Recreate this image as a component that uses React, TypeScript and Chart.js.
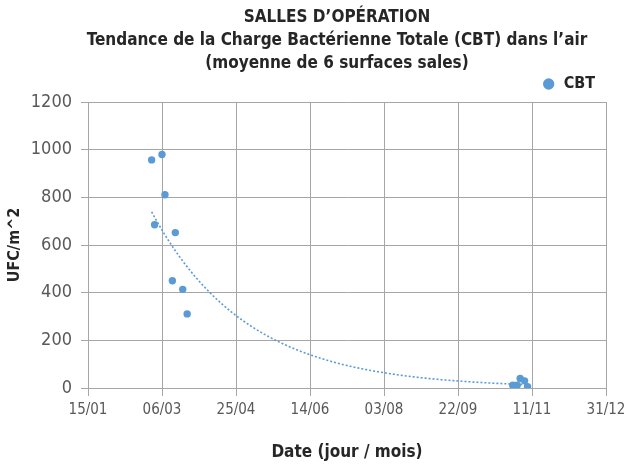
import { useEffect, useRef } from 'react';
import { Chart, registerables } from 'chart.js';

Chart.register(...registerables);

const FONT = "'DejaVu Sans Condensed', 'Liberation Sans Narrow', sans-serif";

const titleLines = [
  'SALLES D’OPÉRATION',
  'Tendance de la Charge Bactérienne Totale (CBT) dans l’air',
  '(moyenne de 6 surfaces sales)',
];
const seriesName = 'CBT';
const sampleDates = ['27/02', '06/03', '08/03', '01/03', '15/03', '13/03', '20/03', '23/03', '29/10', '01/11', '03/11', '06/11', '08/11'];
const cbtValues = [957, 980, 811, 685, 652, 450, 414, 311, 12, 12, 40, 30, 5];
const xTickLabels = ['15/01', '06/03', '25/04', '14/06', '03/08', '22/09', '11/11', '31/12'];
const yTickValues = [0, 200, 400, 600, 800, 1000, 1200];
const xAxisTitle = 'Date (jour / mois)';
const yAxisTitle = 'UFC/m^2';

const monthStarts = [0, 31, 59, 90, 120, 151, 181, 212, 243, 273, 304, 334];
const dayOfYear = (s: string) => {
  const [d, m] = s.split('/').map(Number);
  return monthStarts[m - 1] + d;
};

const BLUE = '#5B9BD5';
const GRID = '#A6A6A6';
const DARK = '#262626';

export default function App() {
  const ref = useRef<HTMLCanvasElement | null>(null);

  useEffect(() => {
    if (!ref.current) return;
    const pts = sampleDates.map((s, i) => ({ x: dayOfYear(s), y: cbtValues[i] }));

    // Exponential trendline (least squares on ln y), as the spreadsheet does
    const n = pts.length;
    const mx = pts.reduce((a, p) => a + p.x, 0) / n;
    const my = pts.reduce((a, p) => a + Math.log(p.y), 0) / n;
    let sxy = 0, sxx = 0;
    pts.forEach((p) => {
      sxy += (p.x - mx) * (Math.log(p.y) - my);
      sxx += (p.x - mx) * (p.x - mx);
    });
    const b = sxy / sxx;
    const lnA = my - b * mx;
    const xs = pts.map((p) => p.x);
    const x0 = Math.min(...xs), x1 = Math.max(...xs);
    const trend: { x: number; y: number }[] = [];
    for (let x = x0; x <= x1; x += 1) trend.push({ x, y: Math.exp(lnA + b * x) });

    const xTickDays = xTickLabels.map(dayOfYear);

    const titlePlugin = {
      id: 'multiTitle',
      afterDraw(chart: any) {
        const ctx = chart.ctx;
        ctx.save();
        ctx.fillStyle = DARK;
        ctx.font = `bold 17px ${FONT}`;
        ctx.textAlign = 'center';
        ctx.textBaseline = 'middle';
        const ys = [18, 41, 64];
        titleLines.forEach((t, i) => ctx.fillText(t, 337, ys[i]));
        ctx.restore();
      },
    };

    const chart = new Chart(ref.current, {
      type: 'scatter',
      data: {
        datasets: [
          {
            label: seriesName,
            data: pts,
            backgroundColor: BLUE,
            borderColor: BLUE,
            pointRadius: 3.7,
            pointBorderWidth: 0,
            order: 1,
          },
          {
            label: 'trend',
            data: trend,
            showLine: true,
            borderColor: BLUE,
            borderWidth: 1.6,
            borderDash: [2, 2],
            pointRadius: 0,
            fill: false,
            order: 2,
          } as any,
        ],
      },
      options: {
        animation: false,
        responsive: false,
        layout: { padding: { top: 65, left: 5, right: 20, bottom: 1 } },
        plugins: {
          title: { display: false },
          tooltip: { enabled: false },
          legend: {
            position: 'top',
            align: 'end',
            labels: {
              filter: (item: any) => item.text === seriesName,
              usePointStyle: true,
              pointStyle: 'circle',
              boxWidth: 14,
              boxHeight: 8,
              padding: 11,
              color: DARK,
              font: { family: FONT, size: 16, weight: 'bold' },
            },
          },
        },
        scales: {
          x: {
            type: 'linear',
            min: xTickDays[0],
            max: xTickDays[xTickDays.length - 1],
            afterBuildTicks: (scale: any) => {
              scale.ticks = xTickDays.map((v) => ({ value: v }));
            },
            afterFit: (scale: any) => {
              scale.height = 75;
              scale.paddingRight = 0;
              scale.paddingLeft = 0;
            },
            ticks: {
              autoSkip: false,
              maxRotation: 0,
              color: '#595959',
              font: { family: FONT, size: 15 },
              padding: 5,
              callback: (v: any) => xTickLabels[xTickDays.indexOf(Number(v))] ?? '',
            },
            grid: { color: GRID, lineWidth: 1, tickLength: 8 },
            border: { color: GRID },
            title: {
              display: true,
              text: xAxisTitle,
              color: DARK,
              font: { family: FONT, size: 17, weight: 'bold' },
              padding: { top: 0, bottom: 0 },
            },
          },
          y: {
            min: 0,
            max: 1200,
            afterBuildTicks: (scale: any) => {
              scale.ticks = yTickValues.map((v) => ({ value: v }));
            },
            afterFit: (scale: any) => {
              scale.width = 83;
            },
            ticks: {
              color: '#595959',
              font: { family: FONT, size: 18 },
              padding: 9,
              callback: (v: any) => String(v),
            },
            grid: { color: GRID, lineWidth: 1, tickLength: 7 },
            border: { color: GRID },
            title: {
              display: true,
              text: yAxisTitle,
              color: DARK,
              font: { family: FONT, size: 16, weight: 'bold' },
              padding: { top: 0, bottom: 0 },
            },
          },
        },
      },
      plugins: [titlePlugin],
    });
    return () => chart.destroy();
  }, []);

  return (
    <div style={{ position: 'fixed', left: 0, top: 0, width: 626, height: 464, background: '#fff' }}>
      <canvas ref={ref} width={626} height={464} style={{ width: 626, height: 464, display: 'block' }} />
    </div>
  );
}
